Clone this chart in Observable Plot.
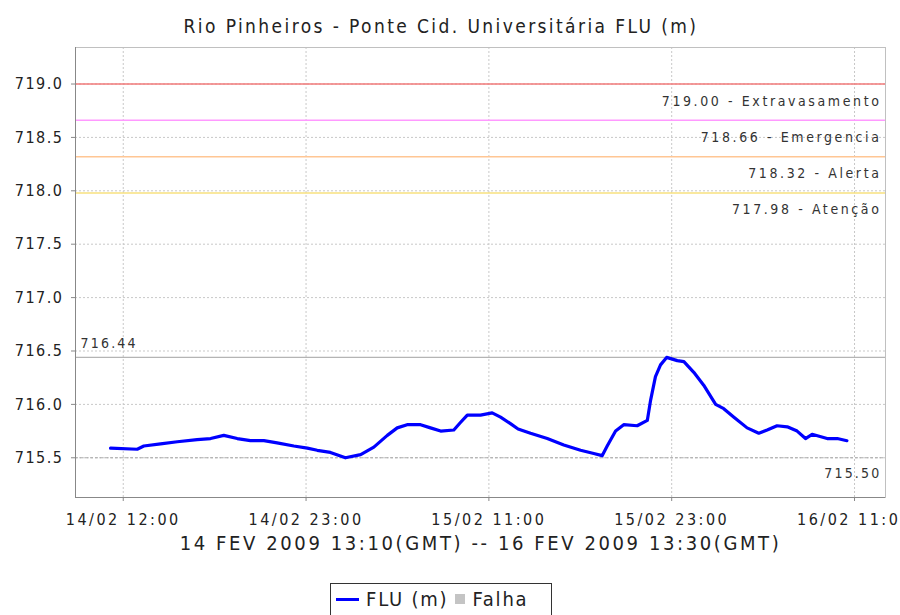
<!DOCTYPE html>
<html><head><meta charset="utf-8">
<script src="https://cdn.jsdelivr.net/npm/d3@7"></script>
<script src="https://cdn.jsdelivr.net/npm/@observablehq/plot@0.6"></script>
<style>
body{margin:0;background:#fff;width:900px;height:615px;overflow:hidden;position:relative;font-family:"DejaVu Sans Condensed","DejaVu Sans",sans-serif;color:#222}
#title{height:44px;box-sizing:border-box;padding-top:16px;width:882px;text-align:center;font-size:19px;letter-spacing:2.4px;line-height:20px;color:#222}
#chart svg{display:block}
#legend{position:absolute;left:330px;top:583px;width:222px;height:40px;border:1px solid #333;box-sizing:border-box;display:flex;align-items:center;padding:0 5px 8px 5px;font-size:20px;letter-spacing:1.8px;color:#222;white-space:nowrap}
#legend .ln{display:inline-block;width:23px;height:3px;background:#0000ff;margin-right:7px}
#legend .sq{display:inline-block;width:10px;height:10px;background:#c4c4c4;margin:0 7px 0 7px}
</style></head><body>
<div id="title"></div>
<div id="chart"></div>
<div id="legend"></div>
<script>
const chartTitle = "Rio Pinheiros - Ponte Cid. Universitária FLU (m)";
const axisTitle = "14 FEV 2009 13:10(GMT) -- 16 FEV 2009 13:30(GMT)";
const seriesName = "FLU (m)";
const failName = "Falha";

const times = [
  "2009-02-14T13:10Z","2009-02-14T14:55Z","2009-02-14T15:21Z","2009-02-14T16:27Z","2009-02-14T17:33Z",
  "2009-02-14T18:51Z","2009-02-14T19:44Z","2009-02-14T20:36Z","2009-02-14T21:29Z","2009-02-14T22:21Z",
  "2009-02-14T23:14Z","2009-02-15T00:06Z","2009-02-15T01:12Z","2009-02-15T02:05Z","2009-02-15T02:44Z",
  "2009-02-15T03:36Z","2009-02-15T04:35Z","2009-02-15T05:35Z","2009-02-15T06:27Z","2009-02-15T07:20Z",
  "2009-02-15T07:59Z","2009-02-15T08:38Z","2009-02-15T09:31Z","2009-02-15T10:10Z","2009-02-15T10:50Z",
  "2009-02-15T11:42Z","2009-02-15T12:08Z","2009-02-15T12:35Z","2009-02-15T13:27Z","2009-02-15T14:13Z",
  "2009-02-15T14:46Z","2009-02-15T15:25Z","2009-02-15T15:55Z","2009-02-15T16:44Z","2009-02-15T17:50Z",
  "2009-02-15T18:55Z","2009-02-15T20:01Z","2009-02-15T20:53Z","2009-02-15T21:26Z","2009-02-15T21:46Z",
  "2009-02-15T22:19Z","2009-02-15T22:51Z","2009-02-15T23:44Z","2009-02-16T00:24Z","2009-02-16T00:37Z",
  "2009-02-16T00:56Z","2009-02-16T01:16Z","2009-02-16T01:40Z","2009-02-16T02:22Z","2009-02-16T02:48Z",
  "2009-02-16T03:27Z","2009-02-16T04:06Z","2009-02-16T04:53Z","2009-02-16T05:25Z","2009-02-16T06:05Z",
  "2009-02-16T06:57Z","2009-02-16T07:43Z","2009-02-16T08:16Z","2009-02-16T08:55Z","2009-02-16T09:35Z",
  "2009-02-16T10:14Z","2009-02-16T10:47Z","2009-02-16T11:13Z","2009-02-16T12:12Z","2009-02-16T12:52Z",
  "2009-02-16T13:30Z"
];
const levels = [
  715.59,715.58,715.61,715.63,715.65,
  715.67,715.68,715.71,715.68,715.66,
  715.66,715.64,715.61,715.59,715.57,
  715.55,715.50,715.53,715.60,715.71,
  715.78,715.81,715.81,715.78,715.75,
  715.76,715.83,715.90,715.90,715.92,
  715.88,715.82,715.77,715.73,715.68,
  715.62,715.57,715.54,715.52,715.61,
  715.75,715.81,715.80,715.85,716.04,
  716.26,716.37,716.44,716.41,716.40,
  716.30,716.18,716.00,715.96,715.88,
  715.78,715.73,715.76,715.80,715.79,
  715.75,715.68,715.72,715.68,715.68,
  715.66
];

const thresholdValues = [719.00, 718.66, 718.32, 717.98];
const thresholdLabels = ["Extravasamento", "Emergencia", "Alerta", "Atenção"];

const yTicks = [715.5, 716.0, 716.5, 717.0, 717.5, 718.0, 718.5, 719.0];
const xTickTimes = ["2009-02-14T14:00Z","2009-02-15T02:00Z","2009-02-15T14:00Z","2009-02-16T02:00Z","2009-02-16T14:00Z"];
const xTickLabels = ["14/02 12:00","14/02 23:00","15/02 11:00","15/02 23:00","16/02 11:00"];
const xDomainTimes = ["2009-02-14T10:52Z","2009-02-16T16:02Z"];
const yDomain = [715.128, 719.342];

// styling
const thresholdColors = {"Extravasamento":"#f27a7a","Emergencia":"#ff99ff","Alerta":"#ffc694","Atenção":"#f7e07e"};
const FONT = '"DejaVu Sans Condensed","DejaVu Sans",sans-serif';

document.getElementById("title").textContent = chartTitle;
document.getElementById("legend").innerHTML =
  `<span class="ln"></span><span>${seriesName}</span><span class="sq"></span><span>${failName}</span>`;

const series = times.map((t, i) => ({time: new Date(t), level: levels[i]}));
const [minLevel, maxLevel] = d3.extent(levels);
const xTickDates = xTickTimes.map(t => new Date(t));
const tickLabelMap = new Map(xTickDates.map((d, i) => [+d, xTickLabels[i]]));
const xDomain = xDomainTimes.map(t => new Date(t));
const thresholds = thresholdValues.map((v, i) => ({value: v, label: thresholdLabels[i]}));

const plot = Plot.plot({
  width: 900, height: 531,
  marginTop: 3, marginLeft: 75, marginRight: 15, marginBottom: 78,
  style: {fontFamily: FONT, fontSize: "16px", color: "#222", background: "#fff", overflow: "visible"},
  x: {type: "utc", domain: xDomain, ticks: xTickDates, tickFormat: d => tickLabelMap.get(+d), tickSize: 4, tickPadding: 12, label: null},
  y: {domain: yDomain, ticks: yTicks, tickFormat: d => d.toFixed(1), tickSize: 4, tickPadding: 8, label: null},
  marks: [
    Plot.ruleY(yTicks, {stroke: "#c8c8c8", strokeDasharray: "2,2"}),
    Plot.ruleX(xTickDates, {stroke: "#c8c8c8", strokeDasharray: "2,2"}),
    ...thresholds.map(t => Plot.ruleY([t.value], {stroke: thresholdColors[t.label], strokeWidth: 1.5})),
    Plot.text(thresholds, {y: "value", text: d => `${d.value.toFixed(2)} - ${d.label}`, frameAnchor: "right", textAnchor: "end", dx: -4, dy: 17, fontSize: 14, fill: "#333", className: "thr"}),
    Plot.ruleY([maxLevel], {stroke: "#b4b4b4", strokeWidth: 1.2}),
    Plot.ruleY([minLevel], {stroke: "#aaaaaa", strokeDasharray: "3,2"}),
    Plot.text([maxLevel], {y: d => d, text: d => d.toFixed(2), frameAnchor: "left", textAnchor: "start", dx: 5, dy: -14, fontSize: 14, fill: "#333", className: "mk"}),
    Plot.text([minLevel], {y: d => d, text: d => d.toFixed(2), frameAnchor: "right", textAnchor: "end", dx: -4, dy: 16, fontSize: 14, fill: "#333", className: "mk"}),
    Plot.line(series, {x: "time", y: "level", stroke: "#0000ff", strokeWidth: 3.2}),
    Plot.frame({stroke: "#c0c0c0"}),
    Plot.ruleX([xDomain[0]], {stroke: "#888"}),
    Plot.ruleY([yDomain[0]], {stroke: "#888"}),
    Plot.text([axisTitle], {frameAnchor: "bottom", dy: 52, fontSize: 20, fill: "#222", className: "ax"})
  ]
});
document.getElementById("chart").appendChild(plot);
const svg = d3.select(plot);
svg.selectAll("text").style("letter-spacing", "1.5px");
svg.selectAll('g[aria-label="x-axis tick label"] text').style("letter-spacing", "2.5px");
svg.selectAll('.thr text').style("letter-spacing", "2.6px");
svg.selectAll('.mk text').style("letter-spacing", "2.2px");
svg.selectAll('.ax text').style("letter-spacing", "2.6px");
svg.selectAll('g[aria-label="x-axis tick"] path, g[aria-label="y-axis tick"] path').attr("stroke", "#888");
</script>
</body></html>
